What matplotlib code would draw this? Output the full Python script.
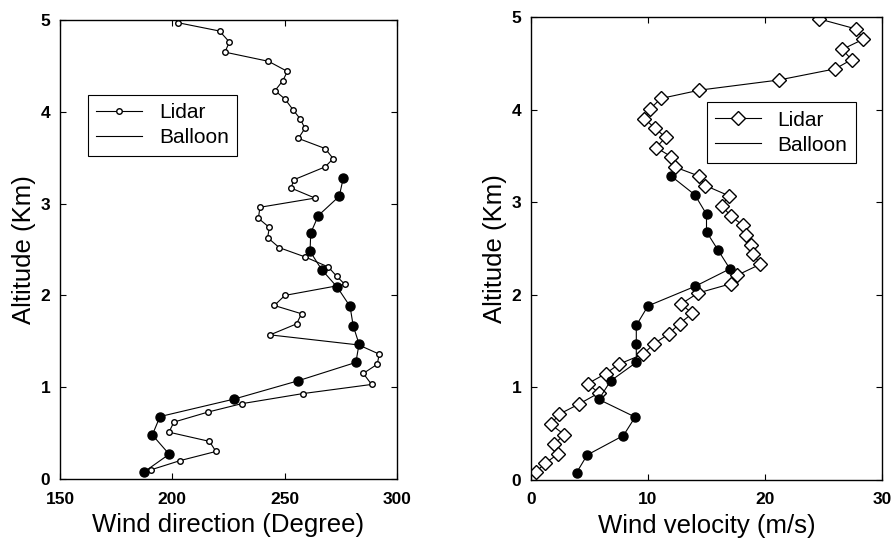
import matplotlib
matplotlib.use("Agg")
import matplotlib.pyplot as plt

plt.rcParams['font.family'] = ['Liberation Sans', 'DejaVu Sans']

# lidar profiles (altitude in km)
lidar_alt = [4.97, 4.88, 4.76, 4.65, 4.55, 4.44, 4.34, 4.23, 4.14, 4.02,
             3.92, 3.82, 3.71, 3.60, 3.49, 3.40, 3.26, 3.17, 3.06, 2.96,
             2.84, 2.74, 2.63, 2.52, 2.42, 2.31, 2.21, 2.12, 2.00, 1.89,
             1.80, 1.69, 1.57, 1.46, 1.36, 1.25, 1.15, 1.03, 0.93, 0.82,
             0.73, 0.62, 0.51, 0.41, 0.30, 0.20, 0.10]
lidar_dir = [202.6, 221.0, 225.4, 223.4, 242.8, 251.2, 249.2, 245.7, 250.1, 253.8,
             257.0, 259.0, 256.1, 268.0, 271.6, 268.0, 254.1, 252.8, 263.5, 239.0,
             238.3, 243.2, 242.4, 247.6, 259.0, 269.4, 273.1, 276.8, 250.1, 245.4,
             257.5, 255.3, 243.5, 283.0, 292.1, 291.2, 285.0, 288.7, 258.0, 230.8,
             216.0, 200.7, 198.5, 216.5, 219.4, 203.4, 190.5]

lidar_alt2 = [4.98, 4.87, 4.76, 4.65, 4.54, 4.44, 4.32, 4.21, 4.12, 4.01,
              3.90, 3.80, 3.70, 3.59, 3.49, 3.38, 3.28, 3.18, 3.07, 2.96,
              2.85, 2.75, 2.65, 2.54, 2.44, 2.33, 2.21, 2.12, 2.02, 1.90,
              1.80, 1.69, 1.58, 1.47, 1.36, 1.25, 1.15, 1.04, 0.94, 0.82,
              0.71, 0.60, 0.49, 0.39, 0.28, 0.18, 0.09]
lidar_vel = [24.6, 27.8, 28.4, 26.6, 27.4, 26.0, 21.2, 14.4, 11.1, 10.2,
             9.7, 10.6, 11.5, 10.7, 12.0, 12.3, 14.4, 14.9, 16.9, 16.3,
             17.1, 18.1, 18.4, 18.8, 19.0, 19.6, 17.6, 17.1, 14.3, 12.8,
             13.8, 12.7, 11.8, 10.5, 9.6, 7.5, 6.4, 4.85, 5.8, 4.1,
             2.4, 1.7, 2.85, 2.0, 2.3, 1.2, 0.45]

# balloon sounding
balloon_alt = [3.28, 3.08, 2.87, 2.68, 2.48, 2.28, 2.09, 1.88, 1.67, 1.47,
               1.27, 1.07, 0.87, 0.68, 0.48, 0.27, 0.08]
balloon_dir = [276.1, 274.3, 265.0, 261.6, 261.3, 266.5, 273.4, 279.1, 280.5, 283.1,
               281.7, 256.0, 227.4, 194.5, 191.1, 198.6, 187.6]
balloon_vel = [12.0, 14.0, 15.0, 15.0, 16.0, 17.0, 14.0, 10.0, 9.0, 9.0,
               9.0, 6.8, 5.8, 8.9, 7.9, 4.8, 3.9]

W, H = 893, 549
fig = plt.figure(figsize=(W / 100, H / 100), dpi=100)
ax1 = fig.add_axes([60 / W, (H - 479) / H, 337 / W, 459 / H])
ax2 = fig.add_axes([531 / W, (H - 480) / H, 351 / W, 463 / H])

ax1.plot(lidar_dir, lidar_alt, '-', color='k', lw=0.8, marker='o', ms=4,
         mfc='white', mec='k', mew=1.0, label='Lidar')
ax1.plot(balloon_dir, balloon_alt, '-', color='k', lw=0.8, label='Balloon')
ax1.plot(balloon_dir, balloon_alt, 'o', color='k', ms=6.5)

ax2.plot(lidar_vel, lidar_alt2, '-', color='k', lw=0.8, marker='D', ms=7,
         mfc='white', mec='k', mew=1.0, label='Lidar')
ax2.plot(balloon_vel, balloon_alt, '-', color='k', lw=0.8, label='Balloon')
ax2.plot(balloon_vel, balloon_alt, 'o', color='k', ms=6.5)

ax1.set_xlim(150, 300)
ax1.set_xticks([150, 200, 250, 300])
ax2.set_xlim(0, 30)
ax2.set_xticks([0, 10, 20, 30])

for ax in (ax1, ax2):
    ax.set_ylim(0, 5)
    ax.set_yticks([0, 1, 2, 3, 4, 5])
    ax.tick_params(direction='in', top=True, right=True, length=4,
                   labelsize=12.5)
    ax.tick_params(axis='x', pad=9)
    ax.tick_params(axis='y', pad=7)
    for lab in ax.get_xticklabels() + ax.get_yticklabels():
        lab.set_fontweight('bold')
    for s in ax.spines.values():
        s.set_linewidth(1.0)
    ax.set_ylabel('Altitude (Km)', fontsize=18.5, labelpad=3)

ax1.set_xlabel('Wind direction (Degree)', fontsize=18.5, labelpad=5)
ax2.set_xlabel('Wind velocity (m/s)', fontsize=18.5, labelpad=5)

leg_kw = dict(loc='upper left', fontsize=15, frameon=True, fancybox=False,
              edgecolor='k', framealpha=1, handlelength=2.2, borderpad=0.4,
              labelspacing=0.3, borderaxespad=0)
l1 = ax1.legend(bbox_to_anchor=(0.083, 0.837), **leg_kw)
l2 = ax2.legend(bbox_to_anchor=(0.501, 0.816), **leg_kw)
for lg in (l1, l2):
    lg.get_frame().set_linewidth(0.8)

fig.savefig('out.png', dpi=100)
